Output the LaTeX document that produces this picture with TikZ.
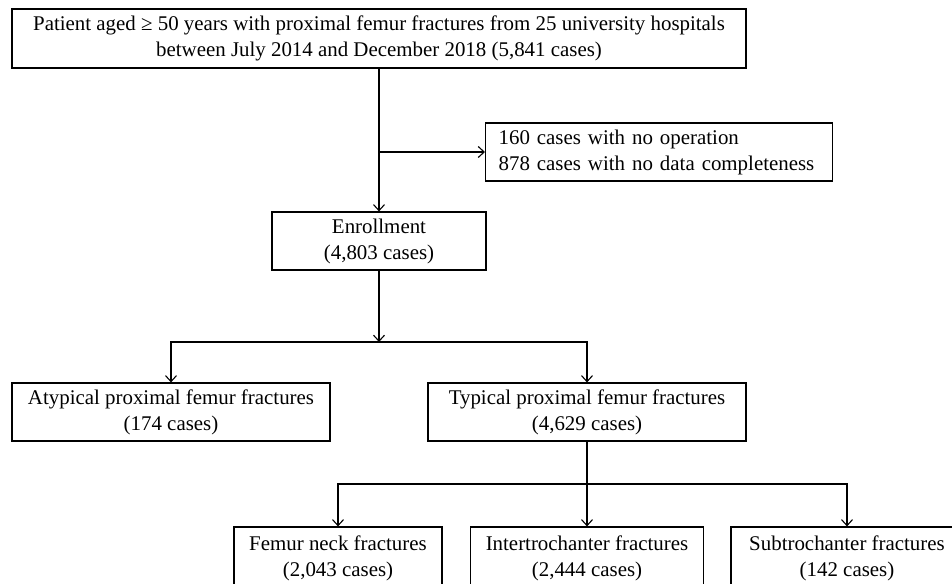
\documentclass[tikz,border=0pt]{standalone}
\usepackage{fontspec}
\setmainfont{Liberation Serif}
\usetikzlibrary{arrows.meta}

\tikzset{
  box/.style={draw, line width=1.2pt, inner sep=0pt, align=center,
    font=\fontsize{20.9}{26}\selectfont},
  link/.style={line width=1.1pt},
  flow/.style={link, -{Straight Barb[length=6pt,width=11pt]}}
}

\begin{document}
\begin{tikzpicture}[x=1pt,y=-1pt]
		\useasboundingbox (0,0) rectangle (952,583);

		% Source population
		\node[box, minimum width=734pt, minimum height=59pt] (all) at (379,38.5)
			{Patient aged ≥ 50 years with proximal femur fractures from 25 university hospitals\\
			 between July 2014 and December 2018 (5,841 cases)};

		% Exclusions
		\node[box, anchor=west, text width=321pt, inner xsep=13pt, align=left,
			minimum height=58pt] (excl) at (485,152)
			{160 cases with no operation\\878 cases with no data completeness};

		% Enrollment
		\node[box, minimum width=214pt, minimum height=58pt] (enrol) at (379,241)
			{Enrollment\\(4,803 cases)};

		% Atypical / typical
		\node[box, minimum width=318pt, minimum height=58pt] (atyp) at (171,412)
			{Atypical proximal femur fractures\\(174 cases)};
		\node[box, minimum width=318pt, minimum height=58pt] (typ) at (587,412)
			{Typical proximal femur fractures\\(4,629 cases)};

		% Fracture sites
		\node[box, minimum width=208pt, minimum height=62pt] (neck) at (338,558)
			{Femur neck fractures\\(2,043 cases)};
		\node[box, minimum width=233pt, minimum height=62pt] (inter) at (587,558)
			{Intertrochanter fractures\\(2,444 cases)};
		\node[box, minimum width=232pt, minimum height=62pt] (sub) at (847,558)
			{Subtrochanter fractures\\(142 cases)};

		% Connectors
		\coordinate (exclsplit) at (all.south |- excl.west);
		\coordinate (enrolsplit) at (379,342);
		\coordinate (typsplit) at (587,484);

		\draw[flow] (all.south) -- (enrol.north);
		\draw[flow] (exclsplit) -- (excl.west);
		\draw[flow] (enrol.south) -- (enrolsplit);
		\draw[flow] (enrolsplit) -| (atyp.north);
		\draw[flow] (enrolsplit) -| (typ.north);
		\draw[flow] (typ.south) -- (inter.north);
		\draw[flow] (typsplit) -| (neck.north);
		\draw[flow] (typsplit) -| (sub.north);
	\end{tikzpicture}
\end{document}
